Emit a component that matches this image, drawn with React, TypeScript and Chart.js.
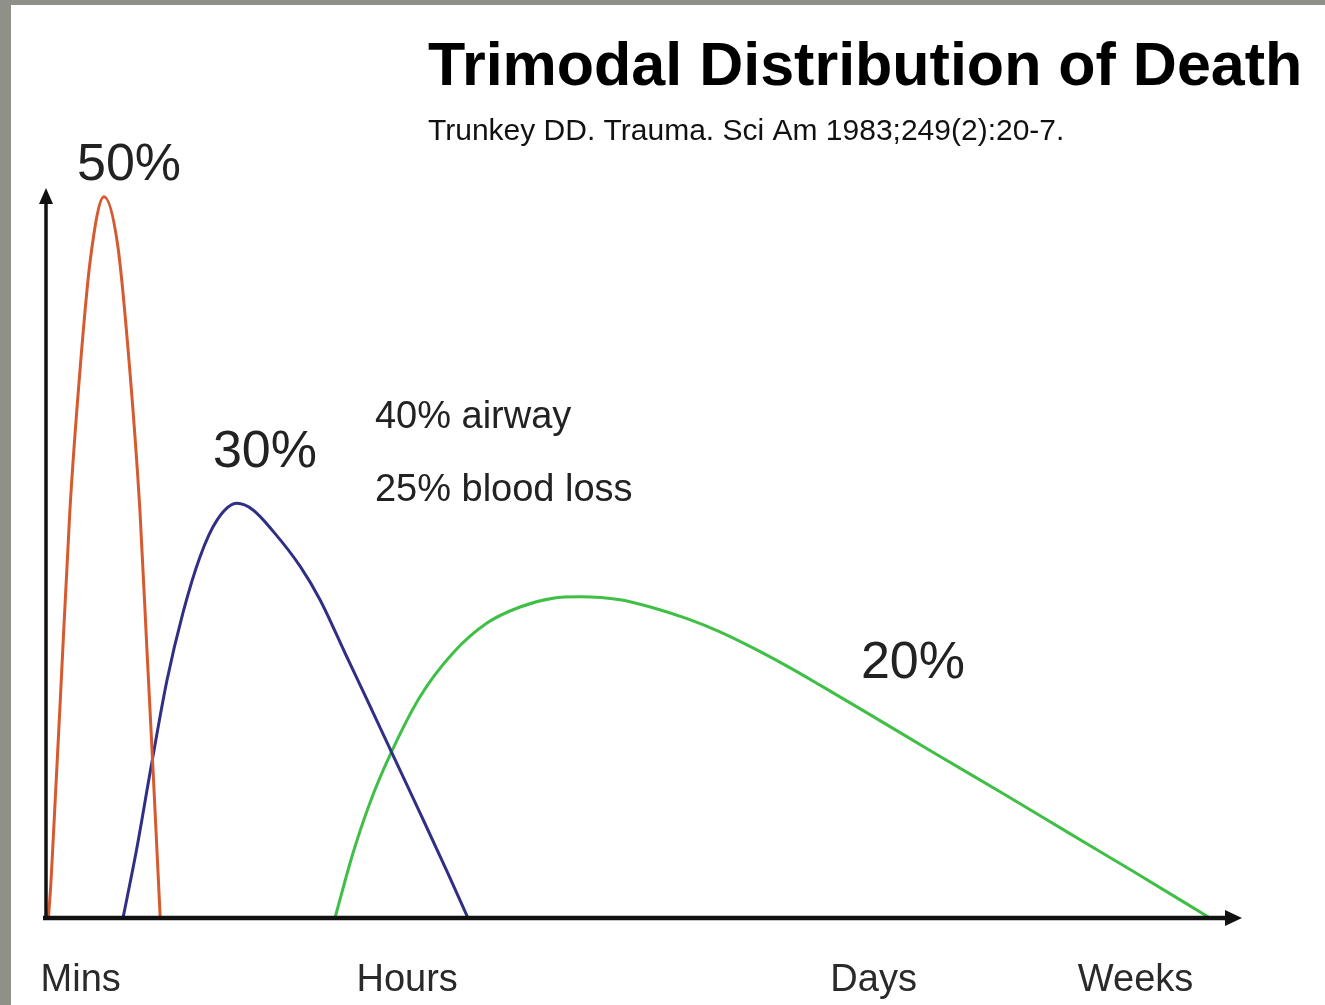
import React, { useEffect, useRef } from "react";
import { Chart, registerables } from "chart.js";

Chart.register(...registerables);

// ---- Data (x: relative time position 0-100 along axis, y: relative death frequency 0-100) ----
const redX = [0.2, 0.4, 0.6, 1.2, 2.0, 2.85, 3.7, 4.85, 6.0, 7.0, 7.85, 8.45, 8.95, 9.55];
const redY = [0, 4.5, 10.7, 30.0, 55.9, 75.2, 90.1, 98.8, 92.1, 75.2, 55.9, 36.4, 20.3, 0];

const blueX = [6.44, 7.61, 8.7, 10.12, 11.45, 12.88, 14.3, 15.97, 17.31, 18.98, 21.24, 22.91, 25.0, 26.84, 29.01, 31.27, 33.53, 35.28];
const blueY = [0, 9.7, 19.9, 32.6, 41.8, 49.5, 54.5, 56.8, 55.9, 53.0, 48.2, 43.6, 36.3, 29.9, 22.3, 14.4, 6.4, 0];

const greenX = [24.16, 25.67, 27.09, 28.76, 31.27, 34.03, 36.87, 39.63, 42.39, 44.65, 47.99, 50.75, 53.6, 56.35, 59.11, 61.96, 64.72, 68.65, 74.16, 79.77, 85.37, 90.89, 97.32];
const greenY = [0, 8.9, 15.8, 22.3, 30.3, 36.3, 40.4, 42.6, 43.8, 44.0, 43.6, 42.5, 41.0, 39.2, 37.0, 34.5, 31.9, 28.1, 22.7, 17.3, 11.8, 6.4, 0];

const xTickValues = [2.9, 30.2, 69.2, 91.1];
const xTickLabels = ["Mins", "Hours", "Days", "Weeks"];

const peakLabels = ["50%", "30%", "20%"];
const peakLabelX = [6.94, 18.31, 72.49];
const peakLabelY = [103.0, 63.7, 34.9];

const noteLabels = ["40% airway", "25% blood loss"];
const noteX = [27.5, 27.5];
const noteY = [68.5, 58.6];

const titleText = "Trimodal Distribution of Death";
const subtitleText = "Trunkey DD. Trauma. Sci Am 1983;249(2):20-7.";

const FONT = "'Liberation Sans', Arial, Helvetica, sans-serif";

const toPoints = (xs: number[], ys: number[]) => xs.map((x, i) => ({ x, y: ys[i] }));

const overlayPlugin = {
  id: "overlay",
  afterDatasetsDraw(chart: any) {
    const { ctx, scales } = chart;
    const xs = scales.x;
    const ys = scales.y;
    const x0 = xs.getPixelForValue(0);
    const y0 = ys.getPixelForValue(0);
    const xEnd = xs.getPixelForValue(100);
    const yEnd = ys.getPixelForValue(100);
    ctx.save();
    ctx.strokeStyle = "#111";
    ctx.fillStyle = "#111";
    ctx.lineCap = "butt";
    // x axis
    ctx.lineWidth = 4.5;
    ctx.beginPath();
    ctx.moveTo(x0 - 3, y0);
    ctx.lineTo(xEnd - 12, y0);
    ctx.stroke();
    ctx.beginPath();
    ctx.moveTo(xEnd, y0);
    ctx.lineTo(xEnd - 17, y0 - 8);
    ctx.lineTo(xEnd - 17, y0 + 8);
    ctx.closePath();
    ctx.fill();
    // y axis
    ctx.lineWidth = 3.5;
    ctx.beginPath();
    ctx.moveTo(x0, y0 + 2);
    ctx.lineTo(x0, yEnd + 12);
    ctx.stroke();
    ctx.beginPath();
    ctx.moveTo(x0, yEnd);
    ctx.lineTo(x0 - 7, yEnd + 16);
    ctx.lineTo(x0 + 7, yEnd + 16);
    ctx.closePath();
    ctx.fill();

    // peak labels
    ctx.fillStyle = "#222";
    ctx.textAlign = "center";
    ctx.textBaseline = "middle";
    ctx.font = `52px ${FONT}`;
    peakLabels.forEach((t, i) => {
      ctx.fillText(t, xs.getPixelForValue(peakLabelX[i]), ys.getPixelForValue(peakLabelY[i]));
    });
    // notes
    ctx.textAlign = "left";
    ctx.font = `38px ${FONT}`;
    noteLabels.forEach((t, i) => {
      ctx.fillText(t, xs.getPixelForValue(noteX[i]), ys.getPixelForValue(noteY[i]));
    });
    // title + subtitle
    ctx.fillStyle = "#000";
    ctx.textBaseline = "alphabetic";
    ctx.font = `bold 61px ${FONT}`;
    ctx.fillText(titleText, 417, 80);
    ctx.fillStyle = "#111";
    ctx.font = `30px ${FONT}`;
    ctx.fillText(subtitleText, 417, 135);
    ctx.restore();
  },
};

export default function App() {
  const canvasRef = useRef<HTMLCanvasElement | null>(null);

  useEffect(() => {
    if (!canvasRef.current) return;
    const lineStyle = { borderWidth: 3, pointRadius: 0, cubicInterpolationMode: "monotone", fill: false };
    const chart = new Chart(canvasRef.current, {
      type: "line",
      data: {
        datasets: [
          { label: "Immediate", data: toPoints(redX, redY), borderColor: "#d65a30", ...lineStyle },
          { label: "Early", data: toPoints(blueX, blueY), borderColor: "#2f2f86", ...lineStyle },
          { label: "Late", data: toPoints(greenX, greenY), borderColor: "#3fbf45", ...lineStyle },
        ],
      },
      options: {
        animation: false,
        responsive: false,
        devicePixelRatio: 1,
        layout: { padding: { left: 35, right: 83, top: 183, bottom: 0 } },
        plugins: {
          legend: { display: false },
          title: { display: false },
          tooltip: { enabled: false },
        },
        scales: {
          x: {
            type: "linear",
            min: 0,
            max: 100,
            grid: { display: false, drawTicks: false },
            border: { display: false },
            afterBuildTicks: (scale: any) => {
              scale.ticks = xTickValues.map((v) => ({ value: v }));
            },
            afterFit: (scale: any) => {
              scale.height = 87;
              scale.paddingLeft = 0;
              scale.paddingRight = 0;
            },
            ticks: {
              autoSkip: false,
              maxRotation: 0,
              minRotation: 0,
              padding: 40,
              color: "#2a2a2a",
              font: { family: FONT, size: 38 },
              callback: (value: any) => {
                const idx = xTickValues.indexOf(Number(value));
                return idx >= 0 ? xTickLabels[idx] : "";
              },
            },
          },
          y: {
            type: "linear",
            min: 0,
            max: 100,
            display: false,
          },
        },
      },
      plugins: [overlayPlugin],
    } as any);
    return () => chart.destroy();
  }, []);

  return (
    <div
      style={{
        position: "fixed",
        left: 0,
        top: 0,
        width: 1325,
        height: 1005,
        background: "#8f9189",
        overflow: "hidden",
      }}
    >
      <canvas
        ref={canvasRef}
        width={1314}
        height={1000}
        style={{ position: "absolute", left: 11, top: 5, width: 1314, height: 1000, background: "#fff" }}
      />
    </div>
  );
}
